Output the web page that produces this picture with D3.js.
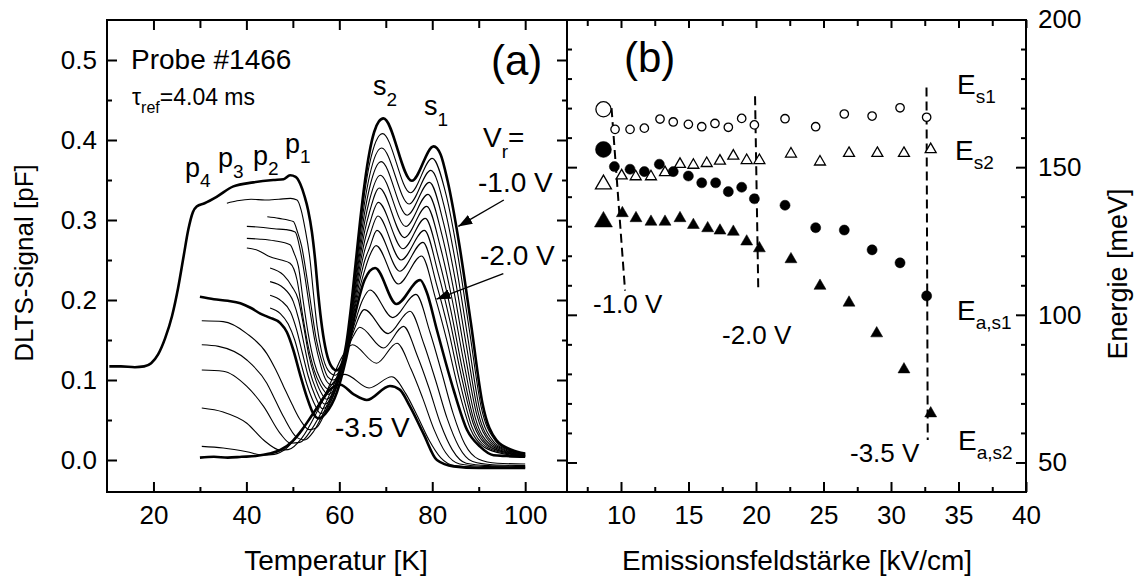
<!DOCTYPE html>
<html><head><meta charset="utf-8">
<script src="https://cdn.jsdelivr.net/npm/d3@7"></script>
<style>
body{margin:0;background:#fff}
text{font-family:"Liberation Sans",Arial,Helvetica,sans-serif;fill:#000}
</style>
</head><body>
<svg id="c" width="1137" height="581"></svg>
<script>
// ---------------- DATA: panel (a) DLTS spectra [T (K), signal (pF)] ----------------
const voltages = ["-1.0","-1.1","-1.2","-1.3","-1.4","-1.5","-1.6","-1.7","-1.8","-1.9","-2.0","-2.25","-2.5","-2.75","-3.0","-3.25","-3.5"];
const thickVoltages = ["-1.0","-2.0","-3.5"];
const spec_m100 = [[10.5,.117],[13,.117],[16,.116],[18,.117],[19.5,.121],[21,.132],[22.5,.152],[24,.18],[25.3,.215],[26.5,.255],[27.5,.288],[28.5,.31],[29.3,.317],[31,.321],[33.6,.329],[37.2,.342],[41.5,.347],[45.8,.35],[48,.351],[49.4,.356],[50.6,.354],[51.6,.345],[52.5,.33],[53.3,.312],[54.1,.285],[54.8,.25],[55.5,.205],[56.3,.165],[57.2,.135],[58.2,.118],[59.4,.112],[60.5,.12],[61.5,.145],[62.5,.19],[63.5,.245],[64.5,.3],[65.5,.348],[66.5,.385],[67.5,.41],[68.5,.423],[69.5,.427],[75.6,.349],[80.3,.392],[81.8,.382],[83.3,.349],[85.8,.27],[88.3,.172],[90.8,.071],[93.8,.025],[97,.013],[100,.008]];
const spec_m110 = [[35.8,.321],[38,.324],[41,.326],[44,.325],[47,.326],[49.5,.327],[50.9,.325],[51.8,.312],[52.6,.29],[53.7,.25],[54.4,.21],[55.2,.168],[56.2,.135],[57.6,.112],[59.1,.106],[61.5,.144],[63.5,.239],[65.5,.336],[66.5,.37],[69.3,.408],[75.3,.334],[80,.377],[83,.331],[85.5,.256],[88,.162],[90.5,.067],[93.5,.0245],[96,.014],[100,.008]];
const spec_m120 = [[44.5,.304],[47,.302],[50.1,.298],[51,.285],[51.9,.267],[53,.229],[54,.19],[55,.152],[56.3,.122],[57.5,.104],[58.7,.1],[61.5,.143],[63.5,.234],[65.5,.324],[66.5,.355],[69.1,.39],[75,.32],[79.7,.362],[82.7,.314],[85.2,.241],[87.7,.151],[90.2,.063],[93.2,.023],[96,.013],[100,.007]];
const spec_m130 = [[40.1,.292],[43,.291],[46,.289],[48.5,.288],[50.5,.285],[51.6,.262],[52.6,.229],[53.6,.19],[54.7,.15],[56,.118],[57.2,.099],[58.3,.094],[61.5,.142],[63.5,.228],[65.5,.311],[66.5,.34],[69,.373],[74.6,.306],[79.4,.347],[82.4,.297],[84.9,.227],[87.4,.141],[89.9,.059],[92.9,.022],[96,.012],[100,.007]];
const spec_m140 = [[40.1,.277],[43,.276],[46,.274],[49.4,.269],[50.3,.258],[51.2,.242],[52.2,.2],[53.3,.158],[54.6,.122],[56,.1],[57.9,.088],[61.5,.141],[63.5,.222],[65.5,.299],[66.5,.325],[68.8,.356],[74.3,.292],[79.1,.332],[82.1,.281],[84.6,.213],[87.1,.131],[89.6,.056],[92.6,.021],[96,.011],[100,.006]];
const spec_m150 = [[40.1,.265],[42.5,.262],[45.1,.254],[47.5,.25],[49.4,.246],[50.9,.225],[52,.185],[53.2,.145],[54.6,.112],[56,.093],[57.6,.082],[61.5,.14],[63.5,.217],[65.5,.287],[66.5,.31],[68.6,.34],[74,.278],[78.8,.317],[81.8,.265],[84.3,.2],[86.8,.122],[89.3,.052],[92.3,.02],[96,.01],[100,.006]];
const spec_m160 = [[45.1,.24],[48,.231],[49.8,.217],[51.2,.2],[52.3,.168],[53.4,.132],[54.7,.104],[56,.085],[57.2,.076],[61.5,.139],[63.5,.211],[65.5,.275],[66.5,.295],[68.4,.322],[73.7,.264],[78.5,.302],[81.5,.249],[84,.187],[86.5,.113],[89,.049],[92,.019],[96,.009],[100,.005]];
const spec_m170 = [[45.1,.223],[48,.215],[50.1,.198],[51.3,.175],[52.4,.145],[53.6,.112],[55,.088],[56.8,.07],[61.5,.138],[63.5,.205],[65.5,.263],[66.5,.28],[68.3,.305],[73.3,.25],[78.3,.287],[81.3,.233],[83.8,.174],[86.3,.104],[88.8,.046],[91.8,.018],[96,.009],[100,.005]];
const spec_m180 = [[45.1,.206],[47.5,.199],[49.5,.185],[50.8,.163],[52,.135],[53.3,.105],[54.8,.08],[56.4,.064],[61.5,.137],[63.5,.199],[65.5,.25],[66.5,.265],[68.1,.287],[73,.236],[78,.272],[81,.218],[83.5,.162],[86,.096],[88.5,.042],[91.5,.017],[96,.008],[100,.005]];
const spec_m190 = [[45.1,.19],[47.3,.183],[49,.17],[50.4,.15],[51.7,.122],[53,.095],[54.5,.072],[56,.058],[61.5,.136],[63.5,.194],[65.5,.238],[66.5,.255],[67.9,.268],[72.7,.22],[77.7,.255],[80.7,.202],[83.2,.148],[85.7,.087],[88.2,.039],[91.2,.016],[96,.007],[100,.004]];
const spec_m200 = [[30,.204],[33,.201],[36,.199],[38.7,.196],[41,.19],[43,.183],[45,.178],[47.3,.171],[48.7,.16],[50.1,.1375],[51.5,.108],[53,.079],[54.4,.058],[55.6,.052],[57,.058],[59.5,.085],[61.5,.128],[63.5,.185],[65.5,.226],[67.7,.24],[72.3,.195],[77.4,.225],[78.8,.21],[81,.1625],[84.6,.0875],[87.5,.0375],[90.3,.0167],[93.2,.006],[96,.005],[100,.004]];
const spec_m225 = [[30.4,.174],[35,.173],[40.1,.158],[44.4,.133],[46.3,.113],[48,.092],[49.8,.07],[51.6,.05],[53.5,.038],[55,.04],[57,.06],[59,.09],[61,.125],[63,.165],[65,.2],[66.6,.2125],[71.5,.178],[76.5,.207],[79.5,.16],[82,.11],[84.5,.058],[87,.02],[90,.001],[94,-.004],[100,-.005]];
const spec_m250 = [[30.4,.144],[34,.142],[40.1,.125],[44.4,.096],[46.2,.075],[48,.054],[50.9,.028],[52.5,.025],[54.5,.036],[57,.064],[59,.092],[61,.125],[63,.16],[65.4,.188],[70.5,.158],[75.2,.186],[78.2,.145],[80.7,.1],[83.2,.052],[85.7,.017],[88.7,-.002],[93,-.006],[100,-.007]];
const spec_m275 = [[30.4,.1125],[35,.111],[40.1,.092],[43.7,.067],[47.3,.033],[49.5,.021],[51.5,.022],[54,.038],[57,.07],[59,.097],[61,.127],[63,.155],[64.4,.166],[69.5,.14],[73.8,.167],[76.8,.13],[79.3,.09],[81.8,.045],[84.3,.013],[87.3,-.004],[92,-.007],[100,-.008]];
const spec_m300 = [[30.4,.065],[35,.06],[40.1,.046],[43.7,.025],[47.3,.0125],[49,.013],[52,.028],[55,.058],[58,.095],[60.5,.128],[62.8,.144],[68,.121],[72.4,.146],[75.4,.114],[77.9,.078],[80.4,.038],[82.9,.009],[85.9,-.005],[91,-.008],[100,-.009]];
const spec_m325 = [[30.4,.017],[35,.015],[40.1,.0104],[43.7,.006],[46,.007],[48.5,.014],[51,.03],[54,.055],[57,.083],[59.2,.1],[61.2,.107],[66.4,.09],[71.3,.104],[74.3,.083],[76.8,.055],[79.3,.025],[81.8,.003],[84.8,-.007],[90,-.009],[100,-.01]];
const spec_m350 = [[30,.003],[33,.004],[36,.003],[39,.004],[42,.005],[45,.008],[47.3,.0125],[50,.024],[52,.038],[54,.055],[56,.072],[58,.088],[60.2,.094],[63.1,.082],[65.9,.075],[70.9,.0925],[73,.088],[75.2,.067],[78.1,.033],[81,.0],[84.6,-.008],[90,-.01],[95,-.01],[100,-.01]];
const spectra = [spec_m100,spec_m110,spec_m120,spec_m130,spec_m140,spec_m150,spec_m160,spec_m170,spec_m180,spec_m190,spec_m200,spec_m225,spec_m250,spec_m275,spec_m300,spec_m325,spec_m350];

// ---------------- DATA: panel (b) energies [field kV/cm, energy meV] ----------------
const fieldEs1  = [9.56,10.67,11.73,12.89,13.87,14.99,15.98,16.96,17.95,18.94,19.88,22.15,24.42,26.54,28.6,30.67,32.64];
const energyEs1 = [162.8,162.8,163.2,166.3,165.3,164.5,163.7,164.8,163.5,166.5,164.3,166.4,163.7,168,167.3,170.1,166.9];
const fieldEs2  = [10.05,11.09,12.22,13.26,14.37,15.36,16.35,17.33,18.32,19.31,20.25,22.59,24.74,26.89,28.99,30.96,32.94];
const energyEs2 = [147.1,146.8,146.8,148.2,151,150.7,151.3,152.1,153.8,152.3,152.3,154.5,151.8,154.7,154.7,154.7,156];
const fieldEas1  = [9.51,10.67,11.73,12.84,13.87,14.99,15.98,17.01,17.95,18.94,19.88,22.15,24.42,26.54,28.6,30.67,32.64];
const energyEas1 = [150.2,149.3,148.5,151,148.5,147,144.7,144.7,141.7,143.2,139.3,137.1,129.5,128.7,122,117.6,106.4];
const fieldEas2  = [10.1,11.11,12.22,13.26,14.37,15.36,16.42,17.33,18.32,19.31,20.25,22.59,24.74,26.89,28.94,30.96,32.94];
const energyEas2 = [134.4,132.7,131.5,131.5,132.7,130.4,129.3,128.5,128.1,124.8,122.5,118.8,109.8,104.1,93.7,81.5,66.6];
// reference (zero-field) points, drawn large
const refField = 8.7;
const refEnergies = {es1:169.6, es2:144.2, eas1:156.0, eas2:131.5};
// dashed markers of the bias voltages: [field top, energy top, field bottom, energy bottom]
const biasLabels = ["-1.0 V","-2.0 V","-3.5 V"];
const biasLines = [[9.3,170,10.3,108.2],[19.93,174,20.17,108.2],[32.63,177,32.72,57.6]];

// tick values
const ticksTa = [20,40,60,80,100], minorTa = [30,50,70,90];
const ticksSa = [0,0.1,0.2,0.3,0.4,0.5], minorSa = [0.05,0.15,0.25,0.35,0.45];
const ticksFb = [10,15,20,25,30,35,40], minorFb = [7.5,12.5,17.5,22.5,27.5,32.5,37.5];
const ticksEb = [50,100,150,200], minorEb = [60,70,80,90,110,120,130,140,160,170,180,190];

// ---------------- DRAWING ----------------
const svg = d3.select("#c");
const T = 20, B = 492, LA = 107, MID = 567, RB = 1026;
const xA = d3.scaleLinear().domain([10,109]).range([LA,MID]);
const yA = d3.scaleLinear().domain([-0.04,0.55]).range([B,T]);
const xB = d3.scaleLinear().domain([6,40]).range([MID,RB]);
const yB = d3.scaleLinear().domain([40,200]).range([B,19.5]);
const FS = 26;

const defs = svg.append("defs");
defs.append("clipPath").attr("id","clipA").append("rect").attr("x",LA).attr("y",T).attr("width",MID-LA).attr("height",B-T);
defs.append("marker").attr("id","arr").attr("viewBox","0 0 14 10").attr("refX",14).attr("refY",5)
  .attr("markerWidth",14).attr("markerHeight",10).attr("markerUnits","userSpaceOnUse").attr("orient","auto")
  .append("path").attr("d","M0,0 L14,5 L0,10 Z").attr("fill","#000");

function axis(gen, tv, size, fmt, tx, ty, pad){
  const g = svg.append("g").attr("transform",`translate(${tx},${ty})`)
    .call(gen.tickValues(tv).tickSize(-size).tickPadding(pad||12).tickFormat(fmt||""));
  g.select(".domain").remove();
  g.selectAll("line").attr("stroke","#000").attr("stroke-width",2);
  g.selectAll("text").attr("font-size",FS).attr("font-family","'Liberation Sans',Arial,sans-serif");
  return g;
}
// panel a axes
axis(d3.axisBottom(xA), ticksTa, 10, d3.format("d"), 0, B, 14);
axis(d3.axisBottom(xA), minorTa, 5, null, 0, B);
axis(d3.axisTop(xA), ticksTa, 10, null, 0, T);
axis(d3.axisTop(xA), minorTa, 8, null, 0, T);
axis(d3.axisLeft(yA), ticksSa, 10, d3.format(".1f"), LA, 0, 10);
axis(d3.axisLeft(yA), minorSa, 5, null, LA, 0);
axis(d3.axisRight(yA), ticksSa, 10, null, MID, 0);
axis(d3.axisRight(yA), minorSa, 5, null, MID, 0);
// panel b axes
axis(d3.axisBottom(xB), ticksFb, 10, d3.format("d"), 0, B, 14);
axis(d3.axisBottom(xB), minorFb, 5, null, 0, B);
axis(d3.axisTop(xB), ticksFb, 8, null, 0, T);
axis(d3.axisTop(xB), minorFb, 6, null, 0, T);
axis(d3.axisRight(yB), ticksEb, 10, d3.format("d"), RB, 0, 12);
axis(d3.axisRight(yB), minorEb, 5, null, RB, 0);
axis(d3.axisLeft(yB), ticksEb, 10, null, MID, 0);
axis(d3.axisLeft(yB), minorEb, 5, null, MID, 0);

// frames
svg.append("rect").attr("x",LA).attr("y",T).attr("width",MID-LA).attr("height",B-T).attr("fill","none").attr("stroke","#000").attr("stroke-width",2);
svg.append("rect").attr("x",MID).attr("y",T).attr("width",RB-MID).attr("height",B-T).attr("fill","none").attr("stroke","#000").attr("stroke-width",2);

// spectra
const line = d3.line().x(d=>xA(d[0])).y(d=>yA(d[1])).curve(d3.curveMonotoneX);
const gA = svg.append("g").attr("clip-path","url(#clipA)");
spectra.forEach((s,i)=>{
  const thick = thickVoltages.includes(voltages[i]);
  gA.append("path").attr("d",line(s)).attr("fill","none").attr("stroke","#000")
    .attr("stroke-width", thick?2.6:1.1).attr("stroke-linejoin","round");
});

// panel a texts
function txt(x,y,str,fs,anchor){ return svg.append("text").attr("x",x).attr("y",y).attr("font-size",fs).attr("text-anchor",anchor||"start").text(str); }
function sub(x,y,main,subs,fs,sfs,dy){
  const t = svg.append("text").attr("x",x).attr("y",y).attr("font-size",fs);
  t.append("tspan").text(main);
  t.append("tspan").attr("dy",dy).attr("font-size",sfs).text(subs);
  return t;
}
txt(131,69,"Probe #1466",28);
{ const t = svg.append("text").attr("x",132).attr("y",105).attr("font-size",23);
  t.append("tspan").text("τ");
  t.append("tspan").attr("dy",8).attr("font-size",16).text("ref");
  t.append("tspan").attr("dy",-8).text("=4.04 ms"); }
txt(491,75,"(a)",42);
sub(185,177,"p","4",27,19,10);
sub(218,167,"p","3",27,19,11);
sub(253,165,"p","2",27,19,10);
sub(285,153,"p","1",27,19,10);
sub(373,95,"s","2",27,19,11);
sub(424,115,"s","1",27,19,11);
{ const t = svg.append("text").attr("x",483).attr("y",147).attr("font-size",28);
  t.append("tspan").text("V");
  t.append("tspan").attr("dy",11).attr("font-size",19).text("r");
  t.append("tspan").attr("dy",-11).text("="); }
txt(478,192,"-1.0 V",28);
txt(480,265,"-2.0 V",28);
txt(335,437,"-3.5 V",28);
// arrows (data coordinates)
const arrows = [[95.4,.325,85.6,.292],[95.3,.233,80.9,.201]];
arrows.forEach(a=>{
  svg.append("line").attr("x1",xA(a[0])).attr("y1",yA(a[1])).attr("x2",xA(a[2])).attr("y2",yA(a[3]))
    .attr("stroke","#000").attr("stroke-width",1.4).attr("marker-end","url(#arr)");
});

// panel b: dashed bias lines
biasLines.forEach(l=>{
  svg.append("line").attr("x1",xB(l[0])).attr("y1",yB(l[1])).attr("x2",xB(l[2])).attr("y2",yB(l[3]))
    .attr("stroke","#000").attr("stroke-width",2).attr("stroke-dasharray","9,5");
});
// markers
const gB = svg.append("g");
function pts(fx, ey, type, filled, size){
  const sym = d3.symbol().type(type).size(size);
  fx.forEach((f,i)=>{
    gB.append("path").attr("d",sym()).attr("transform",`translate(${xB(f)},${yB(ey[i])})`)
      .attr("fill",filled?"#000":"#fff").attr("stroke","#000").attr("stroke-width",filled?0.5:1.3);
  });
}
pts(fieldEs1, energyEs1, d3.symbolCircle, false, 56);
pts(fieldEs2, energyEs2, d3.symbolTriangle, false, 52);
pts(fieldEas1, energyEas1, d3.symbolCircle, true, 80);
pts(fieldEas2, energyEas2, d3.symbolTriangle, true, 62);
pts([refField],[refEnergies.es1], d3.symbolCircle, false, 180);
pts([refField],[refEnergies.es2], d3.symbolTriangle, false, 110);
pts([refField],[refEnergies.eas1], d3.symbolCircle, true, 200);
pts([refField],[refEnergies.eas2], d3.symbolTriangle, true, 140);

txt(624,72,"(b)",42);
sub(957,94,"E","s1",28,19,9);
sub(955,160,"E","s2",28,19,9);
sub(957,320,"E","a,s1",28,19,9);
sub(958,450,"E","a,s2",28,19,9);
txt(593,313,biasLabels[0],26);
txt(722,344,biasLabels[1],26);
txt(850,462,biasLabels[2],26);

// axis titles
txt(336,570,"Temperatur [K]",28,"middle");
txt(797,570,"Emissionsfeldstärke [kV/cm]",28,"middle");
svg.append("text").attr("transform","translate(33,263) rotate(-90)").attr("text-anchor","middle").attr("font-size",26).text("DLTS-Signal [pF]");
svg.append("text").attr("transform","translate(1127,274) rotate(-90)").attr("text-anchor","middle").attr("font-size",27).text("Energie [meV]");
</script>
</body></html>
